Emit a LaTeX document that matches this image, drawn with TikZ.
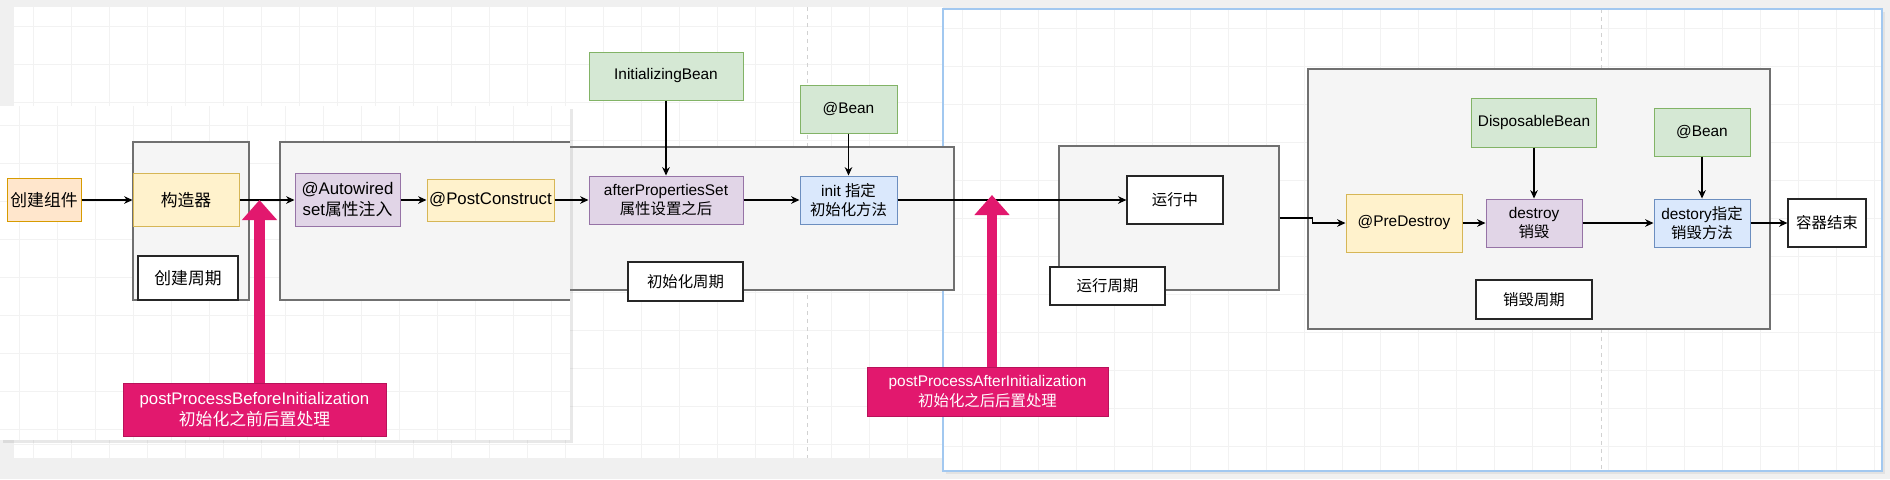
\documentclass[tikz,border=0pt]{standalone}
\usepackage{fontspec}
\setmainfont{Liberation Sans}
\newfontfamily\cjk{Noto Sans CJK SC}
\usepackage{xcolor}
\usepackage{tikz}
\usetikzlibrary{arrows.meta, positioning, shadows}

\definecolor{orangefill}{HTML}{FFE6CC}
\definecolor{orangeline}{HTML}{D79B00}
\definecolor{yellowfill}{HTML}{FFF2CC}
\definecolor{yellowline}{HTML}{D6B656}
\definecolor{purplefill}{HTML}{E1D5E7}
\definecolor{purpleline}{HTML}{9673A6}
\definecolor{greenfill}{HTML}{D5E8D4}
\definecolor{greenline}{HTML}{82B366}
\definecolor{bluefill}{HTML}{DAE8FC}
\definecolor{blueline}{HTML}{6C8EBF}
\definecolor{groupfill}{HTML}{F5F5F5}
\definecolor{groupline}{HTML}{707070}
\definecolor{pinkfill}{HTML}{E2186E}
\definecolor{pinkline}{HTML}{B8125A}
\definecolor{uigray}{HTML}{F0F0F0}
\definecolor{panelblue}{HTML}{A2C8F0}
\definecolor{gridgray}{HTML}{F2F2F2}

\newcommand{\fovl}{\fontsize{8.4}{10.5}\selectfont}
\newcommand{\fbg}{\fontsize{7.7}{9.6}\selectfont}

\tikzstyle{base-rect} = [rectangle, draw, text centered, align=center, inner sep=0pt, line width=0.5pt]
\tikzstyle{orange-rect} = [base-rect, fill=orangefill, draw=orangeline]
\tikzstyle{yellow-rect} = [base-rect, fill=yellowfill, draw=yellowline]
\tikzstyle{purple-rect} = [base-rect, fill=purplefill, draw=purpleline]
\tikzstyle{green-rect} = [base-rect, fill=greenfill, draw=greenline]
\tikzstyle{blue-rect} = [base-rect, fill=bluefill, draw=blueline]
\tikzstyle{group-rect} = [base-rect, fill=groupfill, draw=groupline, line width=0.65pt]
\tikzstyle{label-rect} = [base-rect, fill=white, draw=black!85, line width=0.6pt]
\tikzstyle{pink-rect} = [base-rect, fill=pinkfill, draw=pinkline, text=white]
\tikzstyle{arrow} = [line width=0.55pt, -{Stealth[length=4.2pt,width=3.8pt]}]
\tikzstyle{pink-arrow} = [draw=pinkfill, line width=5.5pt, -{Triangle[length=10pt,width=17pt]}]
\tikzstyle{grid-line} = [draw=gridgray, line width=0.3pt]
\tikzstyle{page-break} = [draw=black!18, line width=0.4pt, dash pattern=on 2pt off 2pt]

\begin{document}
\begin{tikzpicture}[x=0.5pt, y=-0.5pt]
        \useasboundingbox (0,0) rectangle (1890,479);
        \fill[uigray] (0,0) rectangle (1890,479);

        % back canvas
        \fill[white] (14,7) rectangle (943,458);
        \foreach \gx in {33,71,...,943} \draw[grid-line] (\gx,7) -- (\gx,458);
        \foreach \gy in {26,64,...,458} \draw[grid-line] (14,\gy) -- (943,\gy);
        \draw[page-break] (807,7) -- (807,458);

        % right canvas
        \fill[white, drop shadow={opacity=0.12, shadow xshift=1.5pt, shadow yshift=-1.5pt}] (943,9) rectangle (1882,471);
        \foreach \gx in {962,1000,...,1882} \draw[grid-line] (\gx,9) -- (\gx,471);
        \foreach \gy in {28,66,...,471} \draw[grid-line] (943,\gy) -- (1882,\gy);
        \draw[page-break] (1601,9) -- (1601,471);
        \draw[draw=panelblue, line width=1pt] (943,9) rectangle (1882,471);

        % init phase (back canvas)
        \begin{scope}[font=\fbg]
        \node [group-rect, minimum width=327pt, minimum height=71.5pt] (grpInit) at (627,218.5) {};
        \node [green-rect, minimum width=77pt, minimum height=24pt] (initBean) at (666,76) {InitializingBean};
        \node [purple-rect, minimum width=77pt, minimum height=24pt] (afterProps) at (666,200) {afterPropertiesSet\\{\cjk 属性设置之后}};
        \node [green-rect, minimum width=48.5pt, minimum height=24pt] (bean1) at (848.5,109) {@Bean};
        \node [blue-rect, minimum width=48.5pt, minimum height=24pt] (initMethod) at (848.5,200) {init {\cjk 指定}\\{\cjk 初始化方法}};
        \node [label-rect, minimum width=57.5pt, minimum height=19.5pt] (lblInit) at (685.5,281.5) {\cjk 初始化周期};

        % running and destroy phases
        \node [group-rect, minimum width=110pt, minimum height=72pt] (grpRun) at (1169,218) {};
        \node [label-rect, minimum width=48pt, minimum height=24pt] (running) at (1175,200) {\cjk 运行中};
        \node [label-rect, minimum width=57.5pt, minimum height=19pt] (lblRun) at (1107.5,286) {\cjk 运行周期};

        \node [group-rect, minimum width=231pt, minimum height=130pt] (grpDestroy) at (1539,199) {};
        \node [green-rect, minimum width=62.5pt, minimum height=24.5pt] (dispBean) at (1534,122.5) {DisposableBean};
        \node [green-rect, minimum width=48pt, minimum height=24pt] (bean2) at (1702,132) {@Bean};
        \node [yellow-rect, minimum width=58pt, minimum height=29pt] (preDestroy) at (1404,223) {@PreDestroy};
        \node [purple-rect, minimum width=48pt, minimum height=24pt] (destroy) at (1534,223) {destroy\\{\cjk 销毁}};
        \node [blue-rect, minimum width=48pt, minimum height=24pt] (destoryMethod) at (1702,223) {destory{\cjk 指定}\\{\cjk 销毁方法}};
        \node [label-rect, minimum width=39pt, minimum height=24pt] (end) at (1827,223) {\cjk 容器结束};
        \node [label-rect, minimum width=58pt, minimum height=19.5pt] (lblDestroy) at (1534,299.5) {\cjk 销毁周期};

        \node [pink-rect, minimum width=120.5pt, minimum height=24.5pt] (pink2) at (987.5,391.5) {postProcessAfterInitialization\\{\cjk 初始化之后后置处理}};
        \end{scope}

        % front panel
        \fill[white, drop shadow={opacity=0.18, shadow xshift=1.5pt, shadow yshift=-1.5pt}] (0,106) rectangle (570,440);
        \foreach \gx in {19,57,...,570} \draw[grid-line] (\gx,106) -- (\gx,440);
        \foreach \gy in {125,163,...,440} \draw[grid-line] (0,\gy) -- (570,\gy);
        \fill[groupfill] (280,142) rectangle (570,300);
        \draw[groupline, line width=0.65pt] (570,142) -- (280,142) -- (280,300) -- (570,300);

        \begin{scope}[font=\fovl]
        \node [orange-rect, minimum width=37pt, minimum height=21.5pt] (create) at (44,200) {\cjk 创建组件};
        \node [group-rect, minimum width=58pt, minimum height=79pt] (grpCreate) at (191,221) {};
        \node [yellow-rect, minimum width=53pt, minimum height=26.5pt] (ctor) at (186,200) {\cjk 构造器};
        \node [label-rect, minimum width=50pt, minimum height=22pt] (lblCreate) at (188,278) {\cjk 创建周期};
        \node [purple-rect, minimum width=52.5pt, minimum height=26.5pt] (autowired) at (347.5,200) {@Autowired\\set{\cjk 属性注入}};
        \node [yellow-rect, minimum width=63.5pt, minimum height=21pt] (postConstruct) at (490.5,200) {@PostConstruct};
        \node [pink-rect, minimum width=131.5pt, minimum height=26.5pt] (pink1) at (254.5,409.5) {postProcessBeforeInitialization\\{\cjk 初始化之前后置处理}};
        \end{scope}

        % connectors
        \draw [arrow] (create) -- (ctor);
        \draw [arrow] (ctor) -- (autowired);
        \draw [arrow] (autowired) -- (postConstruct);
        \draw [arrow] (postConstruct) -- (afterProps);
        \draw [arrow] (initBean) -- (afterProps);
        \draw [arrow] (afterProps) -- (initMethod);
        \draw [arrow] (bean1) -- (initMethod);
        \draw [arrow] (initMethod) -- (running);
        \draw [arrow] (grpRun.east) -- ++(33,0) |- (preDestroy);
        \draw [arrow] (preDestroy) -- (destroy);
        \draw [arrow] (dispBean) -- (destroy);
        \draw [arrow] (destroy) -- (destoryMethod);
        \draw [arrow] (bean2) -- (destoryMethod);
        \draw [arrow] (destoryMethod) -- (end);

        \coordinate (beforeTip) at (259.5,200);
        \coordinate (afterTip) at (992,195);
        \draw [pink-arrow] ([xshift=2.5pt]pink1.north) -- (beforeTip);
        \draw [pink-arrow, line width=5pt] ([xshift=2.25pt]pink2.north) -- (afterTip);
\end{tikzpicture}
\end{document}
